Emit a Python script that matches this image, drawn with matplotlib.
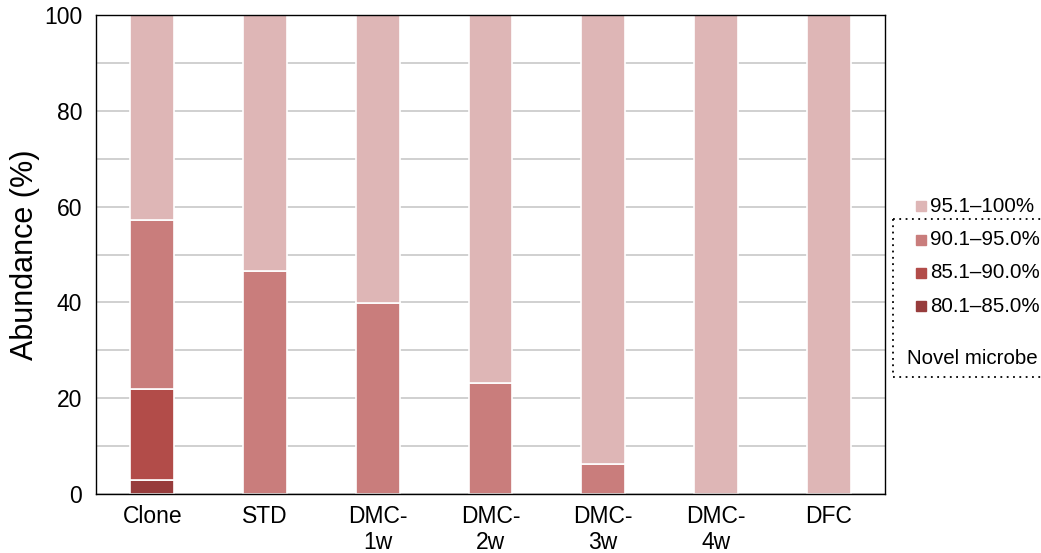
import numpy as np
import matplotlib
matplotlib.use('Agg')
import matplotlib.pyplot as plt
from matplotlib.lines import Line2D
from matplotlib.patches import Rectangle

plt.rcParams['font.family'] = ['Liberation Sans', 'DejaVu Sans']

groups = ['Clone', 'STD', 'DMC-\n1w', 'DMC-\n2w', 'DMC-\n3w', 'DMC-\n4w', 'DFC']
levels = ['80.1–85.0%', '85.1–90.0%', '90.1–95.0%', '95.1–100%']
s80 = [3.0, 0, 0, 0, 0, 0, 0]
s85 = [19.0, 0, 0, 0, 0, 0, 0]
s90 = [35.2, 46.6, 39.9, 23.2, 6.3, 0, 0]
s95 = [42.8, 53.4, 60.1, 76.8, 93.7, 100, 100]
colors = ['#973c3c', '#b24c49', '#c97d7c', '#deb6b6']

fig = plt.figure(figsize=(10.41, 5.53), dpi=100)
ax = fig.add_axes([96 / 1041, 1 - 494 / 553, 789 / 1041, 479 / 553])

x = np.arange(len(groups))
bottom = np.zeros(len(groups))
for vals, c in zip([s80, s85, s90, s95], colors):
    vals = np.array(vals, dtype=float)
    m = vals > 0
    ax.bar(x[m], vals[m], bottom=bottom[m], width=0.39, color=c, edgecolor='white',
           linewidth=1.2, zorder=3)
    bottom += vals

ax.set_xlim(-0.5, len(groups) - 0.5)
ax.set_ylim(0, 100)
ax.set_yticks(range(0, 101, 20))
ax.set_yticks(range(0, 101, 10), minor=True)
ax.yaxis.grid(True, which='both', color='#c4c4c4', linewidth=1.1, zorder=0)
ax.set_axisbelow(True)
ax.set_xticks(x)
ax.set_xticklabels(groups, linespacing=1.15, va='top')
ax.tick_params(axis='both', which='both', length=0, labelsize=16.5)
ax.tick_params(axis='y', pad=10)
ax.tick_params(axis='x', pad=8)
ax.set_ylabel('Abundance (%)', fontsize=22, labelpad=3)
for sp in ax.spines.values():
    sp.set_linewidth(1.0)
    sp.set_color('black')
    sp.set_zorder(5)

# legend outside on the right
W, H = 1041, 553
leg_y = [306, 273, 240, 206]
for lab, c, yy in zip(levels, colors, leg_y):
    fig.patches.append(Rectangle((916 / W, 1 - (yy + 5) / H), 10 / W, 10 / H,
                                 transform=fig.transFigure, color=c))
    fig.text(930 / W, 1 - yy / H, lab, fontsize=14.8, va='center', ha='left')
fig.text(907 / W, 1 - 358 / H, 'Novel microbe', fontsize=14.8, va='center', ha='left')

# dotted bracket around novel microbe entries
for xs, ys in [([893, 1041], [219, 219]), ([893, 893], [219, 377]), ([893, 1041], [377, 377])]:
    fig.lines.append(Line2D([v / W for v in xs], [1 - v / H for v in ys],
                            transform=fig.transFigure, color='black',
                            linestyle=(0, (1, 2.5)), linewidth=1.3))

fig.savefig('out.png', dpi=100)
